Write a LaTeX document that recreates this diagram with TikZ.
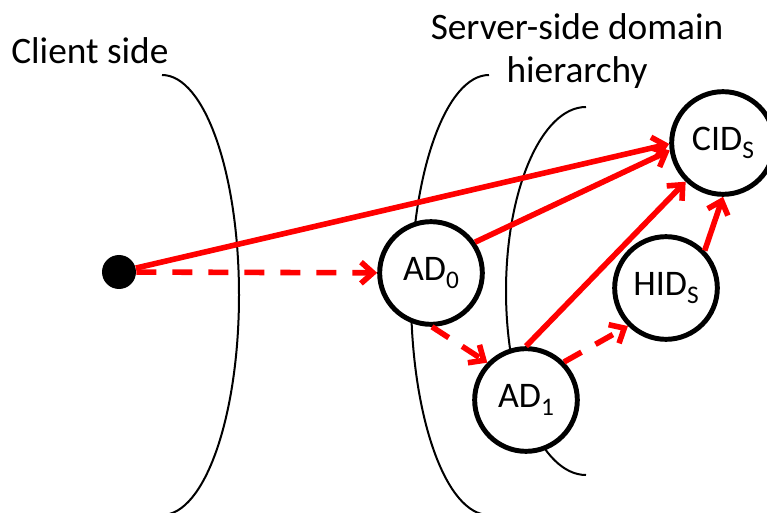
\documentclass[tikz,border=0pt]{standalone}
\usepackage{fontspec}
\setmainfont{Carlito}
\usetikzlibrary{arrows.meta}
\newcommand\mysub[1]{\raisebox{-6pt}{\fontsize{19}{19}\selectfont #1}}
\begin{document}
\begin{tikzpicture}[x=0.75pt,y=0.75pt,
  idnode/.style={circle,draw=black,fill=white,line width=3.7pt,minimum size=77pt,inner sep=0pt,font=\fontsize{27}{32}\selectfont},
  bound/.style={draw=black,line width=1.5pt},
  link/.style={draw=red,line width=4.2pt,-{Straight Barb[length=9pt,width=16pt]}},
  dlink/.style={link,dash pattern=on 15pt off 12pt},
  lbl/.style={inner sep=0pt,font=\fontsize{28}{32.25}\selectfont}]
\useasboundingbox (0,0) rectangle (767,-513);
% boundaries
\draw[bound] (162,-75) arc[start angle=90,end angle=-90,x radius=77,y radius=220];
\draw[bound] (489,-75) arc[start angle=90,end angle=270,x radius=78,y radius=220];
\draw[bound] (586,-107) arc[start angle=90,end angle=270,x radius=80,y radius=184];
% labels
\node[lbl,anchor=base west] (client) at (11,-64) {Client side};
\node[lbl,anchor=base,align=center] (server) at (577,-83) {Server-side domain\\hierarchy};
% nodes
\node[circle,fill=black,minimum size=25.5pt,inner sep=0pt] (dot) at (119,-272) {};
\node[idnode] (ad0) at (431,-273) {AD\mysub{0}};
\node[idnode] (ad1) at (526,-400) {AD\mysub{1}};
\node[idnode] (cid) at (723,-143) {CID\mysub{S}};
\node[idnode] (hid) at (666,-288) {HID\mysub{S}};
% links
\draw[link] (dot) -- (cid.181);
\draw[dlink] (dot) -- (ad0);
\draw[link] (ad0.35) -- (cid.188);
\draw[dlink] (ad0.271) -- (ad1.136);
\draw[link] (ad1.90) -- (cid.226);
\draw[dlink] (ad1.45) -- (hid.225);
\draw[link] (hid.44) -- (cid.270);
\end{tikzpicture}
\end{document}
